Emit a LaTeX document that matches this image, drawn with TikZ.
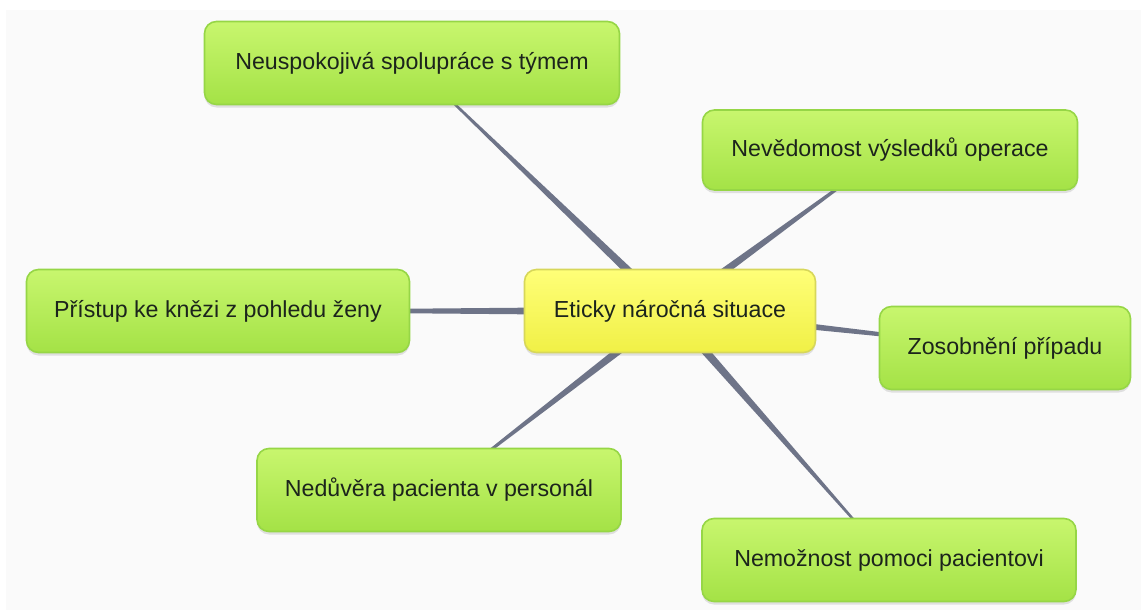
\documentclass[tikz,border=0pt]{standalone}
\usepackage{fontspec}
\setmainfont{Liberation Sans}
\usetikzlibrary{calc,shadows}
\pgfdeclarelayer{bg}
\pgfsetlayers{bg,main}
\definecolor{bgc}{RGB}{250,250,250}
\definecolor{lnc}{RGB}{110,116,136}
\definecolor{gtop}{RGB}{200,246,110}
\definecolor{gbot}{RGB}{164,226,70}
\definecolor{gbrd}{RGB}{150,214,70}
\definecolor{ytop}{RGB}{255,255,120}
\definecolor{ybot}{RGB}{240,240,70}
\definecolor{ybrd}{RGB}{215,215,90}
\definecolor{txc}{RGB}{28,36,28}
\tikzset{
  topic/.style={draw=gbrd, line width=1.6pt, rounded corners=12pt,
    top color=gtop, bottom color=gbot, text=txc,
    font=\fontsize{23.2}{27}\selectfont, inner sep=0pt,
    drop shadow={shadow xshift=0pt, shadow yshift=-3pt, opacity=0.18, fill=black!60}},
  core/.style={topic, draw=ybrd, top color=ytop, bottom color=ybot},
}
\newcommand{\taperline}[2]{%
  \fill[lnc] ($(#1)!4.6pt!90:(#2)$) -- ($(#2)!0.6pt!-90:(#1)$) --
    ($(#2)!0.6pt!90:(#1)$) -- ($(#1)!4.6pt!-90:(#2)$) -- cycle;}
\begin{document}
\begin{tikzpicture}[x=1pt,y=-1pt]
\useasboundingbox (0,0) rectangle (1141,610);
% nodes
\node[core, minimum width=291pt, minimum height=83pt] (c) at (670,311) {Eticky náročná situace};
\node[topic, minimum width=415pt, minimum height=83pt] (n1) at (412,63) {Neuspokojivá spolupráce s týmem};
\node[topic, minimum width=375pt, minimum height=80pt] (n2) at (890,150) {Nevědomost výsledků operace};
\node[topic, minimum width=383pt, minimum height=83pt] (n3) at (218,311) {Přístup ke knězi z pohledu ženy};
\node[topic, minimum width=251pt, minimum height=83pt] (n4) at (1005,348) {Zosobnění případu};
\node[topic, minimum width=364pt, minimum height=83pt] (n5) at (439,490) {Nedůvěra pacienta v personál};
\node[topic, minimum width=374pt, minimum height=83pt] (n6) at (889,560) {Nemožnost pomoci pacientovi};
% background and connectors (behind nodes)
\begin{pgfonlayer}{bg}
\fill[white] (0,0) rectangle (1141,610);
\fill[bgc] (6,10) rectangle (1141,610);
\taperline{c.center}{n1.center}
\taperline{c.center}{n2.center}
\taperline{c.center}{n3.center}
\taperline{c.center}{n4.center}
\taperline{c.center}{n5.center}
\taperline{c.center}{n6.center}
\end{pgfonlayer}
\end{tikzpicture}
\end{document}
